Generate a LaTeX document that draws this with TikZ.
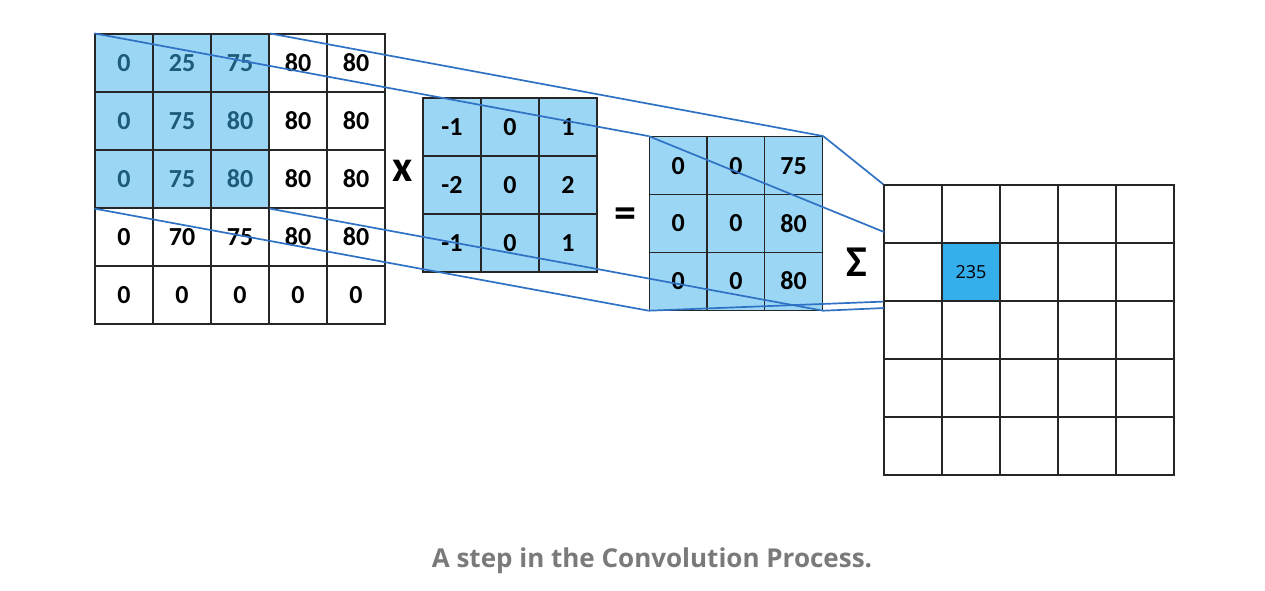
\documentclass[tikz,border=0pt]{standalone}
\usepackage{fontspec}
\setmainfont{Carlito}
\newfontfamily\capfont{Open Sans}
\definecolor{kblue}{HTML}{9BD6F5}
\definecolor{kteal}{HTML}{1D5B7A}
\definecolor{hblue}{HTML}{35AEEC}
\definecolor{lblue}{HTML}{2F72C4}
\definecolor{capgrey}{HTML}{7A7A7A}
\tikzset{
  cell/.style={draw=black!85, line width=1.2pt, minimum size=58pt, inner sep=0pt,
    font=\fontsize{26}{30}\selectfont\bfseries},
  hl0/.style={},
  hl1/.style={fill=kblue, text=kteal},
  kcell/.style={cell, fill=kblue},
  ocell/.style={cell, font=\capfont\fontsize{18}{22}\selectfont},
  link/.style={draw=lblue, line width=1.7pt},
  op/.style={inner sep=0pt, font=\fontsize{44}{46}\selectfont\bfseries}
}
\begin{document}
\begin{tikzpicture}[x=1pt,y=-1pt]
\useasboundingbox (0,0) rectangle (1265,590);
% input image, 3x3 window shaded
\foreach \line [count=\r] in {{0,25,75,80,80},{0,75,80,80,80},{0,75,80,80,80},{0,70,75,80,80},{0,0,0,0,0}}
  \foreach \val [count=\c] in \line {
    \pgfmathtruncatemacro\hl{and(\r<4,\c<4)}
    \node[cell, hl\hl] (in-\r-\c) at ({66+58*\c},{5+58*\r}) {\val};
  }
% kernel
\foreach \line [count=\r] in {{-1,0,1},{-2,0,2},{-1,0,1}}
  \foreach \val [count=\c] in \line
    \node[kcell] (ker-\r-\c) at ({394+58*\c},{69+58*\r}) {\val};
% elementwise product
\foreach \line [count=\r] in {{0,0,75},{0,0,80},{0,0,80}}
  \foreach \val [count=\c] in \line
    \node[kcell] (res-\r-\c) at ({620.5+57.7*\c},{108+57.7*\r}) {\val};
% output map
\foreach \r in {1,...,5}
  \foreach \c in {1,...,5}
    \node[ocell] (out-\r-\c) at ({855+58*\c},{156+58*\r}) {};
\node[ocell, fill=hblue] at (out-2-2) {235};
% operators
\node[op] (times) at (403,171) {x};
\node[op] (equals) at (625,218) {=};
\node[op] (sum) at (857,262) {Σ};
% projection lines
\coordinate (o-a) at (884,232);
\coordinate (o-b) at (884,308);
\draw[link] (in-1-1.north west) -- (res-1-1.north west);
\draw[link] (in-1-3.north east) -- (res-1-3.north east);
\draw[link] (in-3-1.south west) -- (res-3-1.south west);
\draw[link] (in-3-3.south east) -- (res-3-3.south east);
\draw[link] (res-1-3.north east) -- (out-1-1.north west);
\draw[link] (res-1-1.north west) -- (o-a);
\draw[link] (res-3-1.south west) -- (out-2-1.south west);
\draw[link] (res-3-3.south east) -- (o-b);
% caption
\node[font=\capfont\bfseries\fontsize{26}{30}\selectfont, text=capgrey] (caption) at (652,561) {A step in the Convolution Process.};
\end{tikzpicture}
\end{document}
